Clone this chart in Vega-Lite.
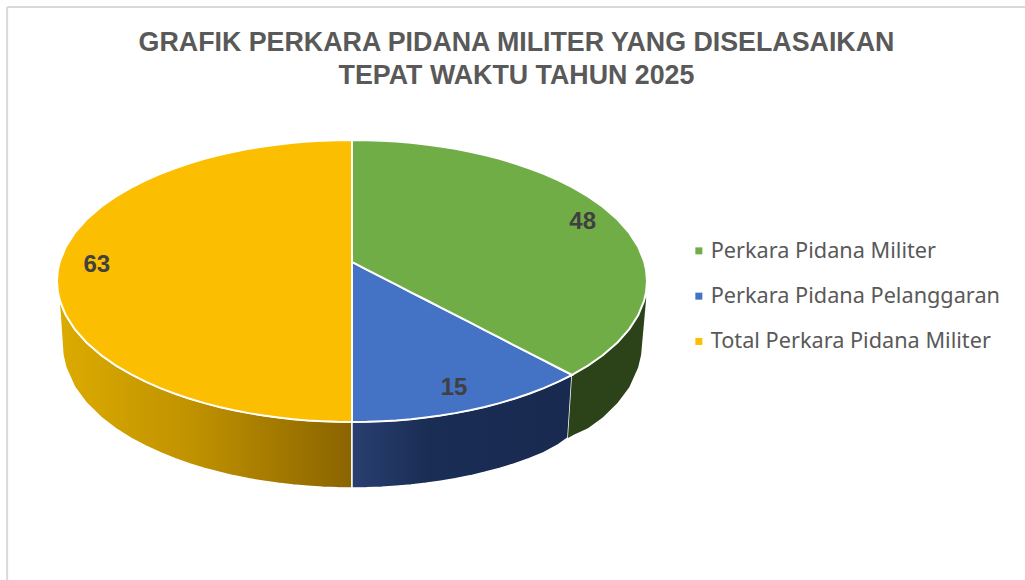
{
"$schema":"https://vega.github.io/schema/vega-lite/v6.json",
"width":1025,"height":580,"padding":0,"autosize":{"type":"none"},"background":"white",
"title":{"text":["GRAFIK PERKARA PIDANA MILITER YANG DISELASAIKAN","TEPAT WAKTU TAHUN 2025"],"font":"Liberation Sans","fontSize":26.8,"fontWeight":"bold","color":"#595959","anchor":"middle","baseline":"top","lineHeight":33,"offset":-90,"dx":4},
"config":{"view":{"stroke":null}},
"datasets":{
"frame":[{"x":-116.9,"x2":228.14,"y":194.3,"y2":194.3},{"x":-116.9,"x2":-116.9,"y":194.3,"y2":-212}],
"sides":[
{"slice":"Total Perkara Pidana Militer","x":-99.3,"upper":-11.8,"lower":-13},
{"slice":"Total Perkara Pidana Militer","x":-98,"upper":-19.9,"lower":-52.5},
{"slice":"Total Perkara Pidana Militer","x":-97,"upper":-24.3,"lower":-61.4},
{"slice":"Total Perkara Pidana Militer","x":-94,"upper":-34.1,"lower":-75.4},
{"slice":"Total Perkara Pidana Militer","x":-90,"upper":-43.6,"lower":-86.6},
{"slice":"Total Perkara Pidana Militer","x":-85,"upper":-52.7,"lower":-96.8},
{"slice":"Total Perkara Pidana Militer","x":-80,"upper":-60,"lower":-104.8},
{"slice":"Total Perkara Pidana Militer","x":-75,"upper":-66.1,"lower":-111.5},
{"slice":"Total Perkara Pidana Militer","x":-70,"upper":-71.4,"lower":-116.9},
{"slice":"Total Perkara Pidana Militer","x":-65,"upper":-76,"lower":-121.8},
{"slice":"Total Perkara Pidana Militer","x":-60,"upper":-80,"lower":-126},
{"slice":"Total Perkara Pidana Militer","x":-55,"upper":-83.5,"lower":-129.7},
{"slice":"Total Perkara Pidana Militer","x":-50,"upper":-86.6,"lower":-132.9},
{"slice":"Total Perkara Pidana Militer","x":-45,"upper":-89.3,"lower":-135.7},
{"slice":"Total Perkara Pidana Militer","x":-40,"upper":-91.7,"lower":-138.2},
{"slice":"Total Perkara Pidana Militer","x":-35,"upper":-93.7,"lower":-140.3},
{"slice":"Total Perkara Pidana Militer","x":-30,"upper":-95.4,"lower":-142},
{"slice":"Total Perkara Pidana Militer","x":-25,"upper":-96.8,"lower":-143.5},
{"slice":"Total Perkara Pidana Militer","x":-20,"upper":-98,"lower":-144.7},
{"slice":"Total Perkara Pidana Militer","x":-15,"upper":-98.9,"lower":-145.6},
{"slice":"Total Perkara Pidana Militer","x":-10,"upper":-99.5,"lower":-146.3},
{"slice":"Total Perkara Pidana Militer","x":-5,"upper":-99.9,"lower":-146.7},
{"slice":"Total Perkara Pidana Militer","x":0,"upper":-100,"lower":-146.8},
{"slice":"Perkara Pidana Pelanggaran","x":0,"upper":-100,"lower":-146.8},
{"slice":"Perkara Pidana Pelanggaran","x":5,"upper":-99.9,"lower":-146.7},
{"slice":"Perkara Pidana Pelanggaran","x":10,"upper":-99.5,"lower":-146.3},
{"slice":"Perkara Pidana Pelanggaran","x":15,"upper":-98.9,"lower":-145.6},
{"slice":"Perkara Pidana Pelanggaran","x":20,"upper":-98,"lower":-144.7},
{"slice":"Perkara Pidana Pelanggaran","x":25,"upper":-96.8,"lower":-143.5},
{"slice":"Perkara Pidana Pelanggaran","x":30,"upper":-95.4,"lower":-142},
{"slice":"Perkara Pidana Pelanggaran","x":35,"upper":-93.7,"lower":-140.3},
{"slice":"Perkara Pidana Pelanggaran","x":40,"upper":-91.7,"lower":-138.2},
{"slice":"Perkara Pidana Pelanggaran","x":45,"upper":-89.3,"lower":-135.7},
{"slice":"Perkara Pidana Pelanggaran","x":50,"upper":-86.6,"lower":-132.9},
{"slice":"Perkara Pidana Pelanggaran","x":55,"upper":-83.5,"lower":-129.7},
{"slice":"Perkara Pidana Pelanggaran","x":60,"upper":-80,"lower":-126},
{"slice":"Perkara Pidana Pelanggaran","x":65,"upper":-76,"lower":-121.8},
{"slice":"Perkara Pidana Pelanggaran","x":70,"upper":-71.4,"lower":-116},
{"slice":"Perkara Pidana Pelanggaran","x":73.2,"upper":-68.1,"lower":-111.3},
{"slice":"Perkara Pidana Pelanggaran","x":74.6,"upper":-66.6,"lower":-66.6},
{"slice":"Perkara Pidana Militer","x":73.2,"upper":-111.3,"lower":-111.3},
{"slice":"Perkara Pidana Militer","x":74.6,"upper":-66.6,"lower":-109.8},
{"slice":"Perkara Pidana Militer","x":75,"upper":-66.1,"lower":-109.3},
{"slice":"Perkara Pidana Militer","x":80,"upper":-60,"lower":-104.4},
{"slice":"Perkara Pidana Militer","x":85,"upper":-52.7,"lower":-96.8},
{"slice":"Perkara Pidana Militer","x":90,"upper":-43.6,"lower":-86.6},
{"slice":"Perkara Pidana Militer","x":94,"upper":-34.1,"lower":-75.4},
{"slice":"Perkara Pidana Militer","x":97,"upper":-24.3,"lower":-61.4},
{"slice":"Perkara Pidana Militer","x":98,"upper":-19.9,"lower":-52.5},
{"slice":"Perkara Pidana Militer","x":99.7,"upper":-11,"lower":-13}
],
"faces":[
{"slice":"Total Perkara Pidana Militer","x":-100,"upper":0,"lower":0},
{"slice":"Total Perkara Pidana Militer","x":-99.7,"upper":7.7,"lower":-7.7},
{"slice":"Total Perkara Pidana Militer","x":-99,"upper":14.1,"lower":-14.1},
{"slice":"Total Perkara Pidana Militer","x":-97,"upper":24.3,"lower":-24.3},
{"slice":"Total Perkara Pidana Militer","x":-94,"upper":34.1,"lower":-34.1},
{"slice":"Total Perkara Pidana Militer","x":-90,"upper":43.6,"lower":-43.6},
{"slice":"Total Perkara Pidana Militer","x":-85,"upper":52.7,"lower":-52.7},
{"slice":"Total Perkara Pidana Militer","x":-80,"upper":60,"lower":-60},
{"slice":"Total Perkara Pidana Militer","x":-75,"upper":66.1,"lower":-66.1},
{"slice":"Total Perkara Pidana Militer","x":-70,"upper":71.4,"lower":-71.4},
{"slice":"Total Perkara Pidana Militer","x":-65,"upper":76,"lower":-76},
{"slice":"Total Perkara Pidana Militer","x":-60,"upper":80,"lower":-80},
{"slice":"Total Perkara Pidana Militer","x":-55,"upper":83.5,"lower":-83.5},
{"slice":"Total Perkara Pidana Militer","x":-50,"upper":86.6,"lower":-86.6},
{"slice":"Total Perkara Pidana Militer","x":-45,"upper":89.3,"lower":-89.3},
{"slice":"Total Perkara Pidana Militer","x":-40,"upper":91.7,"lower":-91.7},
{"slice":"Total Perkara Pidana Militer","x":-35,"upper":93.7,"lower":-93.7},
{"slice":"Total Perkara Pidana Militer","x":-30,"upper":95.4,"lower":-95.4},
{"slice":"Total Perkara Pidana Militer","x":-25,"upper":96.8,"lower":-96.8},
{"slice":"Total Perkara Pidana Militer","x":-20,"upper":98,"lower":-98},
{"slice":"Total Perkara Pidana Militer","x":-15,"upper":98.9,"lower":-98.9},
{"slice":"Total Perkara Pidana Militer","x":-10,"upper":99.5,"lower":-99.5},
{"slice":"Total Perkara Pidana Militer","x":-5,"upper":99.9,"lower":-99.9},
{"slice":"Total Perkara Pidana Militer","x":0,"upper":100,"lower":-100},
{"slice":"Perkara Pidana Pelanggaran","x":0,"upper":13.5,"lower":-100},
{"slice":"Perkara Pidana Pelanggaran","x":5,"upper":8.1,"lower":-99.9},
{"slice":"Perkara Pidana Pelanggaran","x":10,"upper":2.8,"lower":-99.5},
{"slice":"Perkara Pidana Pelanggaran","x":15,"upper":-2.6,"lower":-98.9},
{"slice":"Perkara Pidana Pelanggaran","x":20,"upper":-8,"lower":-98},
{"slice":"Perkara Pidana Pelanggaran","x":25,"upper":-13.3,"lower":-96.8},
{"slice":"Perkara Pidana Pelanggaran","x":30,"upper":-18.7,"lower":-95.4},
{"slice":"Perkara Pidana Pelanggaran","x":35,"upper":-24.1,"lower":-93.7},
{"slice":"Perkara Pidana Pelanggaran","x":40,"upper":-29.4,"lower":-91.7},
{"slice":"Perkara Pidana Pelanggaran","x":45,"upper":-34.8,"lower":-89.3},
{"slice":"Perkara Pidana Pelanggaran","x":50,"upper":-40.2,"lower":-86.6},
{"slice":"Perkara Pidana Pelanggaran","x":55,"upper":-45.6,"lower":-83.5},
{"slice":"Perkara Pidana Pelanggaran","x":60,"upper":-50.9,"lower":-80},
{"slice":"Perkara Pidana Pelanggaran","x":65,"upper":-56.3,"lower":-76},
{"slice":"Perkara Pidana Pelanggaran","x":70,"upper":-61.7,"lower":-71.4},
{"slice":"Perkara Pidana Pelanggaran","x":74.6,"upper":-66.6,"lower":-66.6},
{"slice":"Perkara Pidana Militer","x":0,"upper":100,"lower":13.5},
{"slice":"Perkara Pidana Militer","x":5,"upper":99.9,"lower":8.1},
{"slice":"Perkara Pidana Militer","x":10,"upper":99.5,"lower":2.8},
{"slice":"Perkara Pidana Militer","x":15,"upper":98.9,"lower":-2.6},
{"slice":"Perkara Pidana Militer","x":20,"upper":98,"lower":-8},
{"slice":"Perkara Pidana Militer","x":25,"upper":96.8,"lower":-13.3},
{"slice":"Perkara Pidana Militer","x":30,"upper":95.4,"lower":-18.7},
{"slice":"Perkara Pidana Militer","x":35,"upper":93.7,"lower":-24.1},
{"slice":"Perkara Pidana Militer","x":40,"upper":91.7,"lower":-29.4},
{"slice":"Perkara Pidana Militer","x":45,"upper":89.3,"lower":-34.8},
{"slice":"Perkara Pidana Militer","x":50,"upper":86.6,"lower":-40.2},
{"slice":"Perkara Pidana Militer","x":55,"upper":83.5,"lower":-45.6},
{"slice":"Perkara Pidana Militer","x":60,"upper":80,"lower":-50.9},
{"slice":"Perkara Pidana Militer","x":65,"upper":76,"lower":-56.3},
{"slice":"Perkara Pidana Militer","x":70,"upper":71.4,"lower":-61.7},
{"slice":"Perkara Pidana Militer","x":74.6,"upper":66.6,"lower":-66.6},
{"slice":"Perkara Pidana Militer","x":80,"upper":60,"lower":-60},
{"slice":"Perkara Pidana Militer","x":85,"upper":52.7,"lower":-52.7},
{"slice":"Perkara Pidana Militer","x":90,"upper":43.6,"lower":-43.6},
{"slice":"Perkara Pidana Militer","x":94,"upper":34.1,"lower":-34.1},
{"slice":"Perkara Pidana Militer","x":97,"upper":24.3,"lower":-24.3},
{"slice":"Perkara Pidana Militer","x":99,"upper":14.1,"lower":-14.1},
{"slice":"Perkara Pidana Militer","x":99.7,"upper":7.7,"lower":-7.7},
{"slice":"Perkara Pidana Militer","x":100,"upper":0,"lower":0}
],
"labels":[
{"slice":"Perkara Pidana Militer","value":48,"x":78.2,"y":41.8},
{"slice":"Perkara Pidana Pelanggaran","value":15,"x":34.6,"y":-75.9},
{"slice":"Total Perkara Pidana Militer","value":63,"x":-86.5,"y":11.3}
]
},
"encoding":{
"x":{"field":"x","type":"quantitative","scale":{"domain":[-119.32,228.14],"nice":false,"zero":false},"axis":null},
"y":{"field":"y","type":"quantitative","scale":{"domain":[-212.06,199.29],"nice":false,"zero":false},"axis":null}
},
"layer":[
{"data":{"name":"frame"},"mark":{"type":"rule","color":"#d9d9d9","strokeWidth":2},"encoding":{"x2":{"field":"x2"},"y2":{"field":"y2"}}},
{"data":{"name":"sides"},"transform":[{"filter":"datum.slice==='Total Perkara Pidana Militer'"}],"mark":{"type":"area","stroke":"white","strokeWidth":1.5,"color":{"gradient":"linear","x1":0,"x2":1,"y1":0,"y2":0,"stops":[{"offset":0,"color":"#dcab00"},{"offset":0.45,"color":"#c09200"},{"offset":1,"color":"#8a6400"}]}},"encoding":{"y":{"field":"upper","type":"quantitative"},"y2":{"field":"lower"}}},
{"data":{"name":"sides"},"transform":[{"filter":"datum.slice==='Perkara Pidana Pelanggaran'"}],"mark":{"type":"area","stroke":"white","strokeWidth":1.5,"color":{"gradient":"linear","x1":0,"x2":1,"y1":0,"y2":0,"stops":[{"offset":0,"color":"#283f70"},{"offset":0.35,"color":"#1a2d54"},{"offset":1,"color":"#182a50"}]}},"encoding":{"y":{"field":"upper","type":"quantitative"},"y2":{"field":"lower"}}},
{"data":{"name":"sides"},"transform":[{"filter":"datum.slice==='Perkara Pidana Militer'"}],"mark":{"type":"area","color":"#2c431a"},"encoding":{"y":{"field":"upper","type":"quantitative"},"y2":{"field":"lower"}}},
{"data":{"name":"faces"},"mark":{"type":"area","stroke":"white","strokeWidth":2,"opacity":1},"encoding":{"y":{"field":"upper","type":"quantitative"},"y2":{"field":"lower"},
"color":{"field":"slice","type":"nominal","scale":{"domain":["Perkara Pidana Militer","Perkara Pidana Pelanggaran","Total Perkara Pidana Militer"],"range":["#70ad47","#4472c4","#fbbe00"]},
"legend":{"title":null,"orient":"none","legendX":688,"legendY":240,"symbolType":"square","symbolSize":49,"symbolStrokeWidth":0,"labelFont":"Noto Sans","labelFontSize":21.7,"labelColor":"#595959","labelLimit":320,"rowPadding":22.3,"labelOffset":1}}}},
{"data":{"name":"labels"},"mark":{"type":"text","font":"Liberation Sans","fontSize":24,"fontWeight":"bold","color":"#404040"},"encoding":{"text":{"field":"value","type":"quantitative"}}}
]
}
